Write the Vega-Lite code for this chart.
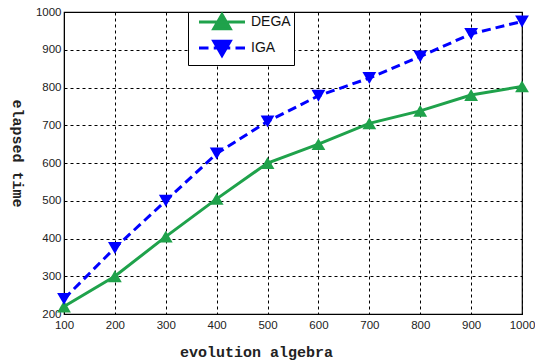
{
  "$schema": "https://vega.github.io/schema/vega-lite/v6.json",
  "width": 458,
  "height": 302,
  "autosize": {"type": "none"},
  "padding": {"left": 64, "top": 12, "right": 13, "bottom": 49},
  "background": "white",
  "config": {
    "view": {"stroke": "black", "strokeWidth": 1.2},
    "axis": {
      "labelFont": "Liberation Sans",
      "labelFontSize": 11.5,
      "labelColor": "#222",
      "titleFont": "Liberation Mono",
      "titleFontSize": 15,
      "titleFontWeight": "bold",
      "titleColor": "#222",
      "gridColor": "black",
      "gridDash": [3, 3],
      "gridOpacity": 1,
      "gridWidth": 1,
      "domainColor": "black",
      "tickColor": "black",
      "tickSize": 0,
      "format": "d"
    }
  },
  "data": {
    "values": [
      {"x": 100, "y": 220, "s": "DEGA"},
      {"x": 200, "y": 300, "s": "DEGA"},
      {"x": 300, "y": 405, "s": "DEGA"},
      {"x": 400, "y": 505, "s": "DEGA"},
      {"x": 500, "y": 600, "s": "DEGA"},
      {"x": 600, "y": 650, "s": "DEGA"},
      {"x": 700, "y": 705, "s": "DEGA"},
      {"x": 800, "y": 738, "s": "DEGA"},
      {"x": 900, "y": 780, "s": "DEGA"},
      {"x": 1000, "y": 803, "s": "DEGA"},
      {"x": 100, "y": 240, "s": "IGA"},
      {"x": 200, "y": 375, "s": "IGA"},
      {"x": 300, "y": 500, "s": "IGA"},
      {"x": 400, "y": 625, "s": "IGA"},
      {"x": 500, "y": 710, "s": "IGA"},
      {"x": 600, "y": 778, "s": "IGA"},
      {"x": 700, "y": 825, "s": "IGA"},
      {"x": 800, "y": 882, "s": "IGA"},
      {"x": 900, "y": 942, "s": "IGA"},
      {"x": 1000, "y": 975, "s": "IGA"}
    ]
  },
  "encoding": {
    "x": {
      "field": "x", "type": "quantitative",
      "scale": {"domain": [100, 1000], "nice": false, "zero": false},
      "axis": {"values": [100, 200, 300, 400, 500, 600, 700, 800, 900, 1000], "title": "evolution algebra", "labelPadding": 5, "titleX": 192, "titleY": 42, "titleBaseline": "alphabetic", "titleAnchor": "middle", "labelFlush": false}
    },
    "y": {
      "field": "y", "type": "quantitative",
      "scale": {"domain": [200, 1000], "nice": false, "zero": false},
      "axis": {"values": [200, 300, 400, 500, 600, 700, 800, 900, 1000], "title": "elapsed time", "titleAngle": 90, "titleX": -47, "titleY": 141, "titleBaseline": "middle", "titleAnchor": "middle", "labelPadding": 3}
    },
    "color": {
      "field": "s", "type": "nominal",
      "scale": {"domain": ["DEGA", "IGA"], "range": ["#1fa24b", "#0000ff"]},
      "legend": {
        "title": null,
        "orient": "none",
        "legendX": 124,
        "legendY": 0,
        "direction": "vertical",
        "fillColor": "white",
        "strokeColor": "black",
        "padding": 3,
        "rowPadding": 0,
        "labelFont": "Liberation Sans",
        "labelFontSize": 14,
        "labelColor": "#111",
        "labelOffset": 22,
        "symbolOffset": 24,
        "symbolSize": 100,
        "symbolStrokeWidth": 3,
        "symbolOpacity": 1,
        "encode": {
          "symbols": {
            "update": {
              "shape": {"signal": "datum.value === 'DEGA' ? 'M-4.6,0H4.6M0,-1.5L1.65,1.35L-1.65,1.35Z' : 'M-4.6,0H-2.7M-1.65,0H1.65M2.7,0H4.6M0,1.5L1.65,-1.35L-1.65,-1.35Z'"},
              "fill": {"signal": "datum.value === 'DEGA' ? '#1fa24b' : '#0000ff'"},
              "stroke": {"signal": "datum.value === 'DEGA' ? '#1fa24b' : '#0000ff'"},
              "strokeWidth": {"value": 3},
              "size": {"value": 100}
            }
          }
        }
      }
    }
  },
  "layer": [
    {
      "transform": [{"filter": "datum.s === 'DEGA'"}],
      "mark": {"type": "line", "strokeWidth": 3}
    },
    {
      "transform": [{"filter": "datum.s === 'IGA'"}],
      "mark": {"type": "line", "strokeWidth": 3, "strokeDash": [9, 5]}
    },
    {
      "transform": [{"filter": "datum.s === 'DEGA'"}],
      "mark": {"type": "point", "filled": true, "size": 190, "opacity": 1, "shape": "triangle-up"}
    },
    {
      "transform": [{"filter": "datum.s === 'IGA'"}],
      "mark": {"type": "point", "filled": true, "size": 190, "opacity": 1, "shape": "triangle-down"}
    }
  ]
}
